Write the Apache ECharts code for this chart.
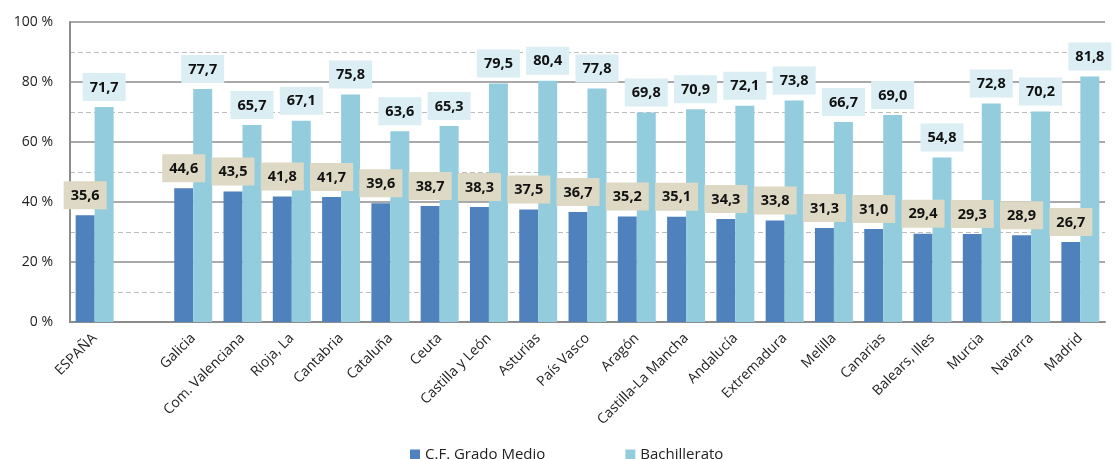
<!DOCTYPE html>
<html><head><meta charset="utf-8">
<script src="https://cdn.jsdelivr.net/npm/echarts@6/dist/echarts.min.js"></script>
<style>html,body{margin:0;padding:0;background:#fff}#c{width:1115px;height:459px}</style>
</head><body><div id="c"></div>
<script>
const categories = ['ESPAÑA', '', 'Galicia', 'Com. Valenciana', 'Rioja, La', 'Cantabria', 'Cataluña', 'Ceuta', 'Castilla y León', 'Asturias', 'País Vasco', 'Aragón', 'Castilla-La Mancha', 'Andalucía', 'Extremadura', 'Melilla', 'Canarias', 'Balears, Illes', 'Murcia', 'Navarra', 'Madrid'];
const gradoMedio = [35.6, null, 44.6, 43.5, 41.8, 41.7, 39.6, 38.7, 38.3, 37.5, 36.7, 35.2, 35.1, 34.3, 33.8, 31.3, 31.0, 29.4, 29.3, 28.9, 26.7];
const bachillerato = [71.7, null, 77.7, 65.7, 67.1, 75.8, 63.6, 65.3, 79.5, 80.4, 77.8, 69.8, 70.9, 72.1, 73.8, 66.7, 69.0, 54.8, 72.8, 70.2, 81.8];
const seriesNames = ['C.F. Grado Medio', 'Bachillerato'];

const fmt = p => p.value == null ? '' : p.value.toFixed(1).replace('.', ',');
const lbl = bg => ({
  show: true, position: 'top', distance: 6, formatter: fmt,
  backgroundColor: bg, padding: [7, 7, 6, 7],
  fontFamily: 'Open Sans', fontWeight: 'bold', fontSize: 14.5, color: '#111'
});
const chart = echarts.init(document.getElementById('c'));
chart.setOption({
  animation: false,
  grid: { left: 70, right: 10, top: 22, bottom: 137 },
  legend: {
    data: seriesNames, left: 405, top: 442, itemGap: 80,
    itemWidth: 10, itemHeight: 10, icon: 'rect',
    textStyle: { fontFamily: 'Open Sans', fontSize: 15, color: '#222' }
  },
  xAxis: {
    type: 'category', data: categories,
    axisLine: { lineStyle: { color: '#8c8c8c', width: 2 } },
    axisTick: { show: false },
    axisLabel: { interval: 0, rotate: 45, margin: 14, fontFamily: 'Open Sans', fontSize: 14, color: '#222' }
  },
  yAxis: {
    type: 'value', min: 0, max: 100, interval: 20,
    axisLine: { show: true, lineStyle: { color: '#8c8c8c', width: 2 } },
    axisTick: { show: false },
    axisLabel: { formatter: v => v + ' %', margin: 17, fontFamily: 'Open Sans', fontSize: 14, color: '#222' },
    splitLine: { lineStyle: { color: '#8c8c8c', width: 1.5 } },
    minorTick: { show: false, splitNumber: 2 },
    minorSplitLine: { show: true, lineStyle: { color: '#bdbdbd', type: [5, 3], width: 1.2 } }
  },
  series: [
    { name: seriesNames[0], type: 'bar', data: gradoMedio, barWidth: '38.5%', barGap: '0%',
      itemStyle: { color: '#4F81BD' }, label: lbl('#DDD9C4') },
    { name: seriesNames[1], type: 'bar', data: bachillerato, barWidth: '38.5%', barGap: '0%',
      itemStyle: { color: '#93CDDD' }, label: lbl('#DAEEF3') }
  ]
});
</script></body></html>
